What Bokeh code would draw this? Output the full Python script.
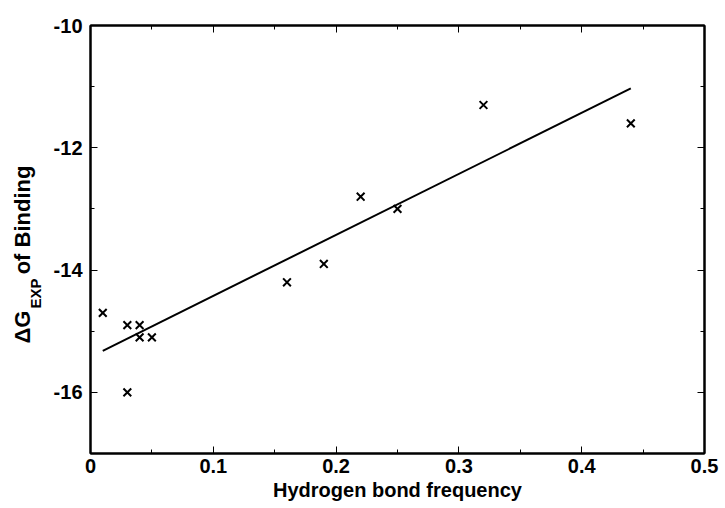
import math
from bokeh.plotting import figure
from bokeh.layouts import row
from bokeh.models import (LinearAxis, FixedTicker, CustomJSTickFormatter, Range1d)
from bokeh.core.properties import value
from bokeh.embed import file_html
from bokeh.resources import INLINE

# data
freq = [0.01, 0.03, 0.03, 0.04, 0.04, 0.05, 0.16, 0.19, 0.22, 0.25, 0.32, 0.44]
dg_exp = [-14.7, -16.0, -14.9, -14.9, -15.1, -15.1, -14.2, -13.9, -12.8, -13.0, -11.3, -11.6]
fit_x = [0.01, 0.44]
fit_y = [-15.32, -11.03]
x_ticks = [0.0, 0.1, 0.2, 0.3, 0.4, 0.5]
x_minor = [0.05, 0.15, 0.25, 0.35, 0.45]
y_ticks = [-16, -14, -12, -10]
y_minor = [-17, -15, -13, -11]
ylabel_parts = ["ΔG", "EXP", "of Binding"]

FONT = "Liberation Sans"
W_TOTAL = 725
W_LEFT = 46
H = 508
B_TOP, B_BOTTOM = 25, 55

yr = Range1d(-17, -10)
p = figure(width=W_TOTAL - W_LEFT, height=H, output_backend="svg", toolbar_location=None,
           x_range=Range1d(0, 0.5), y_range=yr,
           min_border_left=90 - W_LEFT, min_border_right=21,
           min_border_top=B_TOP, min_border_bottom=B_BOTTOM)
p.grid.visible = False
p.outline_line_color = "black"
p.outline_line_width = 2
p.background_fill_color = "white"
p.border_fill_color = "white"

def style(ax, ticks, minor, labels=True):
    ax.ticker = FixedTicker(ticks=ticks, minor_ticks=minor)
    ax.axis_line_color = "black"
    ax.axis_line_width = 2
    ax.major_tick_in = 7
    ax.major_tick_out = 0
    ax.minor_tick_in = 4
    ax.minor_tick_out = 0
    ax.major_tick_line_color = "black"
    ax.minor_tick_line_color = "black"
    ax.major_tick_line_width = 1
    ax.major_label_text_font = FONT
    ax.major_label_text_font_style = "bold"
    ax.major_label_text_font_size = "20px"
    ax.major_label_text_color = "black"
    if not labels:
        ax.formatter = CustomJSTickFormatter(code="return ''")
        ax.major_label_standoff = 0

style(p.xaxis[0], x_ticks, x_minor)
style(p.yaxis[0], y_ticks, y_minor)
p.yaxis[0].formatter = CustomJSTickFormatter(code="return String(tick)")
p.xaxis[0].major_label_standoff = 5
p.yaxis[0].major_label_standoff = 8
p.xaxis[0].axis_label = "Hydrogen bond frequency"
p.xaxis[0].axis_label_text_font = FONT
p.xaxis[0].axis_label_text_font_style = "bold"
p.xaxis[0].axis_label_text_font_size = "20px"
p.xaxis[0].axis_label_text_color = "black"
p.xaxis[0].axis_label_standoff = 3

top = LinearAxis()
style(top, x_ticks, x_minor, labels=False)
p.add_layout(top, "above")
right = LinearAxis()
style(right, y_ticks, y_minor, labels=False)
p.add_layout(right, "right")

p.line(fit_x, fit_y, line_color="black", line_width=2)
p.scatter(freq, dg_exp, marker="x", size=11, line_color="black", line_width=2)

# left strip carrying the rotated y-axis label "ΔG_EXP of Binding"; shares the y range
q = figure(width=W_LEFT, height=H, output_backend="svg", toolbar_location=None,
           x_range=Range1d(0, W_LEFT), y_range=yr,
           min_border_left=0, min_border_right=0,
           min_border_top=B_TOP, min_border_bottom=B_BOTTOM,
           x_axis_type=None, y_axis_type=None)
q.grid.visible = False
q.outline_line_color = None
q.background_fill_color = "white"
q.border_fill_color = "white"
common = dict(angle=math.pi / 2, text_align="left", text_baseline="middle",
              text_font=value(FONT), text_font_style="bold", text_color="black")
q.text(x=[22], y=[-15.20], text=[ylabel_parts[0]], text_font_size="22px", **common)
q.text(x=[35], y=[-14.63], text=[ylabel_parts[1]], text_font_size="15px", **common)
q.text(x=[22], y=[-14.07], text=[ylabel_parts[2]], text_font_size="22px", **common)

layout = row(q, p, spacing=0)
open("out.html", "w").write(file_html(layout, INLINE))
